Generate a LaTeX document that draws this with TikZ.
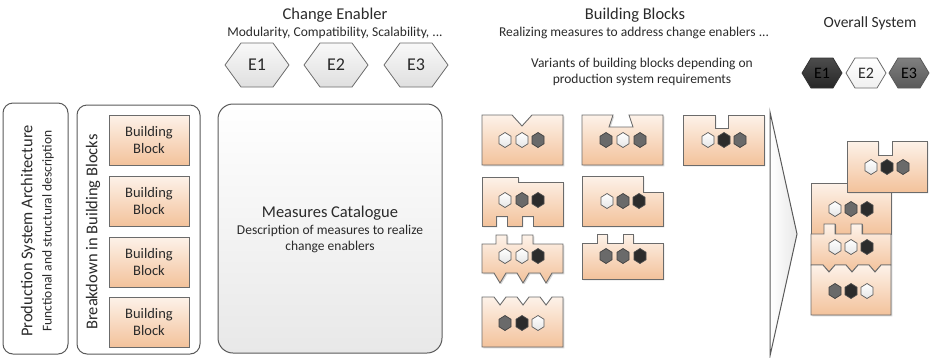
\documentclass[tikz,border=0pt]{standalone}
\usepackage{fontspec}
\setmainfont{Carlito}
\definecolor{txt}{HTML}{2A2A2A}
\definecolor{bord}{HTML}{6B6B6B}
\definecolor{pTop}{HTML}{FDF2E9}
\definecolor{pBot}{HTML}{F3C29B}
\definecolor{hGr}{HTML}{6A6A6A}
\definecolor{hBk}{HTML}{2C2C2C}
\definecolor{pan}{HTML}{5A5A5A}
\newcommand\fTitle{\fontsize{16.5}{19}\selectfont}
\newcommand\fSub{\fontsize{13.5}{16.5}\selectfont}
\newcommand\fBlock{\fontsize{14.5}{17}\selectfont}
\newcommand\fHex{\fontsize{18}{20}\selectfont}
\newcommand\fOver{\fontsize{15.5}{18}\selectfont}
\newcommand\fOhex{\fontsize{16}{18}\selectfont}
\newcommand\sHex[3]{\path[#3] (#1,#2) ++(0,-7.5) -- ++(6,3.75) -- ++(0,7.5) -- ++(-6,3.75) -- ++(-6,-3.75) -- ++(0,-7.5) -- cycle;}
\begin{document}
\begin{tikzpicture}[x=1pt,y=-1pt,
  every node/.style={text=txt, inner sep=0pt},
  panel/.style={draw=pan, line width=1pt, rounded corners=10pt, top color=white, bottom color=white},
  catalog/.style={draw=pan, line width=1pt, rounded corners=15pt, top color=white, bottom color=gray!18},
  blk/.style={draw=bord, line width=0.9pt, line join=miter, top color=pTop, bottom color=pBot,
    preaction={fill=black, opacity=0.16, transform canvas={shift={(1.3pt,-1.3pt)}}}},
  bighex/.style={draw=gray!85!black, line width=0.8pt, top color=gray!5, bottom color=gray!25},
  hw/.style={draw=gray!70!black, line width=0.7pt, top color=white, bottom color=gray!20},
  hg/.style={draw=gray!50!black, line width=0.7pt, fill=hGr},
  hk/.style={draw=black!70, line width=0.7pt, fill=hBk},
  chev/.style={draw=pan, line width=1pt, left color=white, right color=gray!18}
]
\useasboundingbox (0,0) rectangle (933,357);

% ---------- left panels ----------
\draw[panel] (3,103) rectangle (68,354);
\draw[panel] (77,105) rectangle (200,354);
\node[rotate=90, font=\fTitle] (psa) at (28,231) {Production System Architecture};
\node[rotate=90, font=\fSub] (psad) at (48,231) {Functional and structural description};
\node[rotate=90, font=\fTitle] (bdn) at (93,232) {Breakdown in Building Blocks};
\foreach \y/\n in {115/1,176/2,237/3,297/4}{
  \draw[blk] (109,\y) rectangle ++(80,50);
  \node[font=\fBlock, align=center] (bb\n) at (149,\y+25) {Building\\Block};
}

% ---------- change enabler ----------
\node[font=\fTitle] (ce) at (335,15) {Change Enabler};
\node[font=\fSub] (ces) at (335,33) {Modularity, Compatibility, Scalability, ...};
\foreach \x/\t in {257/E1,336/E2,416/E3}{
  \draw[bighex] (\x-32,65) -- (\x-16,43) -- (\x+16,43) -- (\x+32,65) -- (\x+16,87) -- (\x-16,87) -- cycle;
  \node[font=\fHex] (ce\t) at (\x,65) {\t};
}
\draw[catalog] (218,104) rectangle (442,353);
\node[font=\fTitle] (mc) at (330,213) {Measures Catalogue};
\node[font=\fSub, align=center] (mcd) at (330,239) {Description of measures to realize\\change enablers};

% ---------- building blocks ----------
\node[font=\fTitle] (bbt) at (635,15) {Building Blocks};
\node[font=\fSub] (bbs) at (634,33) {Realizing measures to address change enablers ...};
\node[font=\fSub, align=center] (var) at (642,72) {Variants of building blocks depending on\\production system requirements};

% A: V notch
\draw[blk] (482,115) -- (512,115) -- (522,126) -- (532,115) -- (563,115) -- (563,165) -- (482,165) -- cycle;
\sHex{505}{140}{hw}\sHex{522}{140}{hw}\sHex{538}{140}{hg}
% B: dovetail notch
\draw[blk] (582,115) -- (613,115) -- (609,127) -- (633,127) -- (629,115) -- (663,115) -- (663,165) -- (582,165) -- cycle;
\sHex{606}{140}{hg}\sHex{623}{140}{hw}\sHex{640}{140}{hg}
% C: rectangular notch
\draw[blk] (683,115) -- (715,115) -- (715,128) -- (728,128) -- (728,115) -- (764,115) -- (764,165) -- (683,165) -- cycle;
\sHex{708}{140}{hw}\sHex{724}{140}{hk}\sHex{740}{140}{hg}
% D: step top, notched bottom
\draw[blk] (482,177) -- (518,177) -- (518,182) -- (563,182) -- (563,226) -- (533,226) -- (533,216) -- (522,216) -- (522,226) -- (507,226) -- (507,216) -- (496,216) -- (496,226) -- (482,226) -- cycle;
\sHex{505}{200}{hw}\sHex{522}{200}{hg}\sHex{538}{200}{hk}
% E: step top
\draw[blk] (582,176) -- (643,176) -- (643,192) -- (663,192) -- (663,226) -- (582,226) -- cycle;
\sHex{607}{201}{hw}\sHex{623}{201}{hg}\sHex{639}{201}{hk}
% F: tabs on top, teeth below
\draw[blk] (482,244) -- (496,244) -- (496,235) -- (507,235) -- (507,244) -- (522,244) -- (522,235) -- (533,235) -- (533,244) -- (563,244) -- (563,273) -- (552,273) -- (546,283) -- (540,273) -- (529,273) -- (523,283) -- (517,273) -- (506,273) -- (500,283) -- (494,273) -- (482,273) -- cycle;
\sHex{505}{256}{hw}\sHex{522}{256}{hw}\sHex{538}{256}{hk}
% G: V notches on top
\draw[blk] (482,297) -- (494,297) -- (500,305) -- (506,297) -- (517,297) -- (523,305) -- (529,297) -- (540,297) -- (546,305) -- (552,297) -- (563,297) -- (563,347) -- (482,347) -- cycle;
\sHex{505}{323}{hg}\sHex{522}{323}{hk}\sHex{538}{323}{hw}
% H: tabs on top, short
\draw[blk] (582,243) -- (597,243) -- (597,234) -- (607,234) -- (607,243) -- (623,243) -- (623,234) -- (633,234) -- (633,243) -- (663,243) -- (663,279) -- (582,279) -- cycle;
\sHex{606}{256}{hg}\sHex{623}{256}{hg}\sHex{640}{256}{hk}

% chevron
\draw[chev, line join=miter] (770,112) -- (797,234) -- (770,356) -- cycle;

% ---------- overall system ----------
\node[font=\fOver] (os) at (870,23) {Overall System};
\draw[draw=black!80, line width=0.8pt, top color=black!70, bottom color=black!85] (802,73) -- (811,58) -- (833,58) -- (842,73) -- (833,88) -- (811,88) -- cycle;
\draw[bighex, top color=white, bottom color=gray!12] (846,73) -- (855,58) -- (877,58) -- (886,73) -- (877,88) -- (855,88) -- cycle;
\draw[draw=black!65, line width=0.8pt, top color=black!50, bottom color=black!65] (889,73) -- (898,58) -- (920,58) -- (929,73) -- (920,88) -- (898,88) -- cycle;
\node[font=\fOhex, text=black] (o1) at (822,73) {E1};
\node[font=\fOhex] (o2) at (866,73) {E2};
\node[font=\fOhex, text=black] (o3) at (909,73) {E3};

% stacked blocks
\draw[blk] (811,183) -- (847,183) -- (847,188) -- (891,188) -- (891,234) -- (862,234) -- (862,224) -- (851,224) -- (851,234) -- (835,234) -- (835,224) -- (824,224) -- (824,234) -- (811,234) -- cycle;
\sHex{835}{209}{hw}\sHex{851}{209}{hg}\sHex{867}{209}{hk}
\draw[blk] (811,234) -- (824,234) -- (824,224) -- (835,224) -- (835,234) -- (851,234) -- (851,224) -- (862,224) -- (862,234) -- (891,234) -- (891,265) -- (881,265) -- (875,272) -- (869,265) -- (858,265) -- (852,272) -- (846,265) -- (835,265) -- (829,272) -- (823,265) -- (811,265) -- cycle;
\sHex{835}{247}{hw}\sHex{851}{247}{hw}\sHex{867}{247}{hk}
\draw[blk] (811,265) -- (823,265) -- (829,272) -- (835,265) -- (846,265) -- (852,272) -- (858,265) -- (869,265) -- (875,272) -- (881,265) -- (891,265) -- (891,315) -- (811,315) -- cycle;
\sHex{835}{291}{hg}\sHex{851}{291}{hk}\sHex{867}{291}{hw}
\draw[blk] (847,141) -- (878,141) -- (878,155) -- (892,155) -- (892,141) -- (927,141) -- (927,192) -- (847,192) -- cycle;
\sHex{871}{167}{hw}\sHex{887}{167}{hk}\sHex{903}{167}{hg}
\end{tikzpicture}
\end{document}
